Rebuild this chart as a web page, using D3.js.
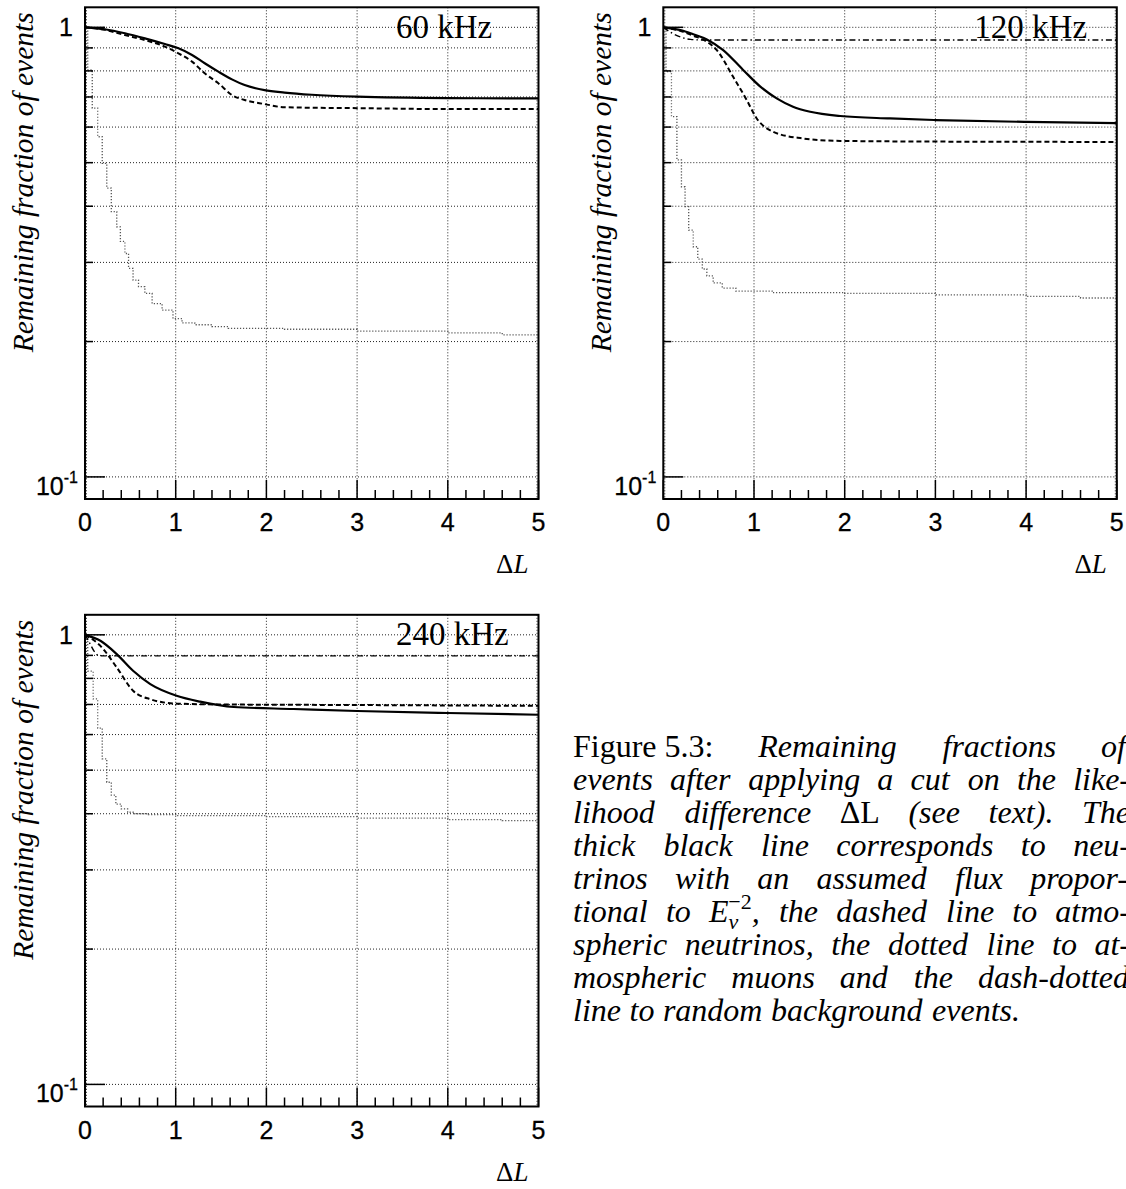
<!DOCTYPE html>
<html>
<head>
<meta charset="utf-8">
<script src="https://cdn.jsdelivr.net/npm/d3@7"></script>
<style>
    body { margin: 0; background: #fff; }
    svg { display: block; }
    .num { font-family: "Liberation Sans", Arial, sans-serif; fill: #000; stroke: #000; stroke-width: 0.3px; }
    .serif { font-family: "Liberation Serif", "Times New Roman", serif; fill: #000; }
    .cap { font-family: "Liberation Serif", "Times New Roman", serif; font-size: 32px; font-style: italic; fill: #000; }
</style>
</head>
<body>
<div id="chart"></div>
<script>
/* * * * * * * * * * * * * * * * * * * *
 *  Remaining fraction vs cut on dL    *
 * * * * * * * * * * * * * * * * * * * */

const panelLabels = ["60 kHz", "120 kHz", "240 kHz"];
const xTickVals = [0, 1, 2, 3, 4, 5];
const yGridVals = [0.1, 0.2, 0.3, 0.4, 0.5, 0.6, 0.7, 0.8, 0.9, 1.0];

// [dL, fraction]
// 60 kHz
const sig60 = [[0, 1.0], [0.22, 0.990], [0.44, 0.970], [0.66, 0.945], [0.88, 0.918], [1.03, 0.898], [1.18, 0.868],
    [1.32, 0.832], [1.47, 0.797], [1.62, 0.766], [1.76, 0.744], [1.98, 0.725], [2.2, 0.716], [2.5, 0.708],
    [3, 0.701], [4, 0.696], [5, 0.695]];
const atmNu60 = [[0, 1.0], [0.22, 0.987], [0.44, 0.961], [0.66, 0.937], [0.88, 0.906], [1.03, 0.875], [1.18, 0.839],
    [1.32, 0.790], [1.47, 0.751], [1.62, 0.707], [1.76, 0.689], [1.98, 0.675], [2.2, 0.664], [3, 0.661],
    [4, 0.658], [5, 0.658]];
const atmMu60 = [[0, 1.0], [0.03, 0.804], [0.08, 0.661], [0.14, 0.571], [0.19, 0.498], [0.24, 0.439], [0.29, 0.389],
    [0.35, 0.360], [0.39, 0.334], [0.44, 0.314], [0.48, 0.291], [0.53, 0.274], [0.59, 0.265], [0.66, 0.256],
    [0.74, 0.243], [0.85, 0.235], [0.97, 0.225], [1.07, 0.220], [1.21, 0.218], [1.40, 0.216], [1.58, 0.214],
    [2.2, 0.213], [3.0, 0.211], [4.0, 0.209], [4.6, 0.207], [5, 0.207]];

// 120 kHz
const sig120 = [[0, 1.0], [0.2, 0.985], [0.33, 0.965], [0.48, 0.94], [0.66, 0.89], [0.88, 0.804], [1.07, 0.738],
    [1.25, 0.695], [1.43, 0.666], [1.62, 0.649], [1.95, 0.635], [2.5, 0.627], [3, 0.622], [4, 0.616], [5, 0.612]];
const atmNu120 = [[0, 1.0], [0.2, 0.98], [0.33, 0.958], [0.48, 0.929], [0.59, 0.89], [0.77, 0.776], [0.92, 0.689],
    [1.03, 0.627], [1.21, 0.586], [1.51, 0.567], [1.95, 0.559], [3, 0.557], [5, 0.556]];
const atmMu120 = [[0, 1.0], [0.03, 0.797], [0.09, 0.633], [0.15, 0.507], [0.20, 0.442], [0.24, 0.399], [0.28, 0.354],
    [0.33, 0.325], [0.38, 0.305], [0.43, 0.29], [0.48, 0.28], [0.55, 0.27], [0.65, 0.263], [0.8, 0.259],
    [1.2, 0.257], [2.0, 0.256], [3.0, 0.254], [4.0, 0.252], [4.6, 0.250], [5, 0.250]];
const random120 = [[0, 1.0], [0.1, 0.97], [0.2, 0.95], [0.3, 0.94], [0.45, 0.937], [5, 0.937]];

// 240 kHz
const sig240 = [[0, 1.0], [0.17, 0.970], [0.35, 0.906], [0.53, 0.832], [0.72, 0.777], [1.01, 0.732], [1.27, 0.710],
    [1.64, 0.691], [2.3, 0.684], [3, 0.677], [4, 0.670], [5, 0.664]];
const atmNu240 = [[0, 1.0], [0.17, 0.945], [0.35, 0.846], [0.53, 0.751], [0.72, 0.719], [1.01, 0.703], [1.5, 0.700],
    [3, 0.698], [5, 0.695]];
const atmMu240 = [[0, 1.0], [0.03, 0.83], [0.09, 0.72], [0.14, 0.62], [0.19, 0.53], [0.24, 0.47], [0.29, 0.44],
    [0.34, 0.42], [0.40, 0.41], [0.47, 0.403], [0.55, 0.400], [0.7, 0.398], [1.0, 0.396], [2.0, 0.394],
    [3.0, 0.391], [4.0, 0.388], [4.6, 0.386], [5, 0.386]];
const random240 = [[0, 1.0], [0.05, 0.96], [0.1, 0.92], [0.15, 0.90], [0.2, 0.898], [5, 0.898]];

const captionLines = [
    ["Figure 5.3:", "Remaining", "fractions", "of"],
    ["events", "after", "applying", "a", "cut", "on", "the", "like-"],
    ["lihood", "difference", "ΔL", "(see", "text).", "The"],
    ["thick", "black", "line", "corresponds", "to", "neu-"],
    ["trinos", "with", "an", "assumed", "flux", "propor-"],
    ["tional", "to", "Eν−2,", "the", "dashed", "line", "to", "atmo-"],
    ["spheric", "neutrinos,", "the", "dotted", "line", "to", "at-"],
    ["mospheric", "muons", "and", "the", "dash-dotted"],
    ["line", "to", "random", "background", "events."]
];

// line looks
const styles = {
    sig:    { stroke: "#000", width: 2.2, dash: null, curve: d3.curveMonotoneX },
    atmNu:  { stroke: "#000", width: 2, dash: "5,3", curve: d3.curveMonotoneX },
    atmMu:  { stroke: "#555", width: 1.3, dash: "1.2,1.8", curve: d3.curveStepAfter },
    random: { stroke: "#000", width: 1.4, dash: "6,3,1.5,3", curve: d3.curveMonotoneX }
};

class FracPanel {
    constructor(svg, left, top, label, series) {
        this.svg = svg;
        this.left = left;
        this.top = top;
        this.label = label;
        this.series = series;
        this.width = 453.5;
        this.height = 491.7;

        this.initVis();
    }

    initVis() {
        let vis = this;
        let right = vis.left + vis.width;
        let bottom = vis.top + vis.height;

        vis.g = vis.svg.append("g");

        vis.x = d3.scaleLinear().domain([0, 5]).range([vis.left, right]);
        vis.y = d3.scaleLog().domain([0.0893, 1.108]).range([bottom, vis.top]);

        // dotted grid
        vis.g.selectAll(".hgrid")
            .data(yGridVals)
            .enter()
            .append("line")
            .attr("x1", vis.left).attr("x2", right)
            .attr("y1", d => vis.y(d)).attr("y2", d => vis.y(d))
            .attr("stroke", "#222").attr("stroke-width", 1)
            .attr("stroke-dasharray", "1,2");

        vis.g.selectAll(".vgrid")
            .data(xTickVals)
            .enter()
            .append("line")
            .attr("x1", d => vis.x(d) + (d === 0 ? 1.5 : d === 5 ? -1.5 : 0))
            .attr("x2", d => vis.x(d) + (d === 0 ? 1.5 : d === 5 ? -1.5 : 0))
            .attr("y1", vis.top).attr("y2", bottom)
            .attr("stroke", "#222").attr("stroke-width", 1)
            .attr("stroke-dasharray", "1,2");

        // curves, muons first so the rest sits on top
        let order = ["atmMu", "random", "atmNu", "sig"];
        order.forEach(key => {
            let s = vis.series.find(d => d.kind === key);
            if (!s) return;
            let st = styles[key];
            let line = d3.line()
                .x(d => vis.x(d[0]))
                .y(d => vis.y(d[1]))
                .curve(st.curve);
            vis.g.append("path")
                .attr("d", line(s.data))
                .attr("fill", "none")
                .attr("stroke", st.stroke)
                .attr("stroke-width", st.width)
                .attr("stroke-dasharray", st.dash);
        });

        // frame
        vis.g.append("rect")
            .attr("x", vis.left).attr("y", vis.top)
            .attr("width", vis.width).attr("height", vis.height)
            .attr("fill", "none").attr("stroke", "#000").attr("stroke-width", 2);

        // x ticks (pointing up from the bottom)
        let xMinor = d3.range(0, 26).map(i => i * 0.2);
        vis.g.selectAll(".xtick")
            .data(xMinor)
            .enter()
            .append("line")
            .attr("x1", d => vis.x(d)).attr("x2", d => vis.x(d))
            .attr("y1", bottom)
            .attr("y2", (d, i) => bottom - (i % 5 === 0 ? 19 : 9))
            .attr("stroke", "#000").attr("stroke-width", 1.5);

        // y ticks (pointing right from the left edge)
        vis.g.selectAll(".ytick")
            .data(yGridVals)
            .enter()
            .append("line")
            .attr("x1", vis.left)
            .attr("x2", d => vis.left + (d === 0.1 || d === 1.0 ? 20 : 8))
            .attr("y1", d => vis.y(d)).attr("y2", d => vis.y(d))
            .attr("stroke", "#000").attr("stroke-width", 1.5);

        // tick labels
        vis.g.selectAll(".xlab")
            .data(xTickVals)
            .enter()
            .append("text")
            .attr("class", "num")
            .attr("x", d => vis.x(d))
            .attr("y", bottom + 32)
            .attr("text-anchor", "middle")
            .style("font-size", "25px")
            .text(d => d);

        vis.g.append("text")
            .attr("class", "num")
            .attr("x", vis.left - 12)
            .attr("y", vis.y(1) + 9)
            .attr("text-anchor", "end")
            .style("font-size", "25px")
            .text("1");

        let dec = vis.g.append("text")
            .attr("class", "num")
            .attr("x", vis.left - 7)
            .attr("y", vis.y(0.1) + 18)
            .attr("text-anchor", "end")
            .style("font-size", "25px");
        dec.append("tspan").text("10");
        dec.append("tspan").attr("dy", -12).style("font-size", "16px").text("-1");

        // axis titles
        vis.g.append("text")
            .attr("class", "serif")
            .attr("transform", `translate(${vis.left - 52}, ${vis.top + 5}) rotate(-90)`)
            .attr("text-anchor", "end")
            .style("font-size", "29.5px")
            .style("font-style", "italic")
            .text("Remaining fraction of events");

        let xt = vis.g.append("text")
            .attr("class", "serif")
            .attr("x", right - 10)
            .attr("y", bottom + 74)
            .attr("text-anchor", "end")
            .style("font-size", "27px");
        xt.append("tspan").text("Δ");
        xt.append("tspan").style("font-style", "italic").text("L");

        // rate label
        vis.g.append("text")
            .attr("class", "serif")
            .attr("x", vis.left + 311)
            .attr("y", vis.top + 30.5)
            .style("font-size", "33px")
            .text(vis.label);
    }
}

const svg = d3.select("#chart").append("svg")
    .attr("width", 1126)
    .attr("height", 1189);

new FracPanel(svg, 85, 7.3, panelLabels[0], [
    { kind: "sig", data: sig60 },
    { kind: "atmNu", data: atmNu60 },
    { kind: "atmMu", data: atmMu60 }
]);
new FracPanel(svg, 663.3, 7.3, panelLabels[1], [
    { kind: "sig", data: sig120 },
    { kind: "atmNu", data: atmNu120 },
    { kind: "atmMu", data: atmMu120 },
    { kind: "random", data: random120 }
]);
new FracPanel(svg, 85, 614.8, panelLabels[2], [
    { kind: "sig", data: sig240 },
    { kind: "atmNu", data: atmNu240 },
    { kind: "atmMu", data: atmMu240 },
    { kind: "random", data: random240 }
]);

// Caption, justified to a right margin just past the page edge
const capLeft = 573, capRight = 1130, capTop = 757, capStep = 33;
let cap = svg.append("g");

function drawWord(word, y) {
    let t = cap.append("text").attr("class", "cap").attr("x", 0).attr("y", y);
    if (word === "Figure 5.3:") {
        t.style("font-style", "normal").text(word);
    } else if (word === "ΔL") {
        t.style("font-style", "normal").text(word);
    } else if (word === "Eν−2,") {
        t.append("tspan").text("E");
        t.append("tspan").attr("dy", 7).style("font-size", "22px").text("ν");
        t.append("tspan").attr("dx", -10).attr("dy", -20).style("font-size", "22px")
            .style("font-style", "normal").text("−2");
        t.append("tspan").attr("dy", 13).text(",");
    } else {
        t.text(word);
    }
    return t;
}

captionLines.forEach((words, li) => {
    let y = capTop + li * capStep;
    let nodes = words.map(w => drawWord(w, y));
    let widths = nodes.map(n => n.node().getBBox().width);
    let total = d3.sum(widths);
    let last = li === captionLines.length - 1;
    let gap = last ? 8.5 : (capRight - capLeft - total) / (words.length - 1);
    let cx = capLeft;
    nodes.forEach((n, i) => {
        n.attr("x", cx);
        cx += widths[i] + gap;
    });
});
</script>
</body>
</html>
